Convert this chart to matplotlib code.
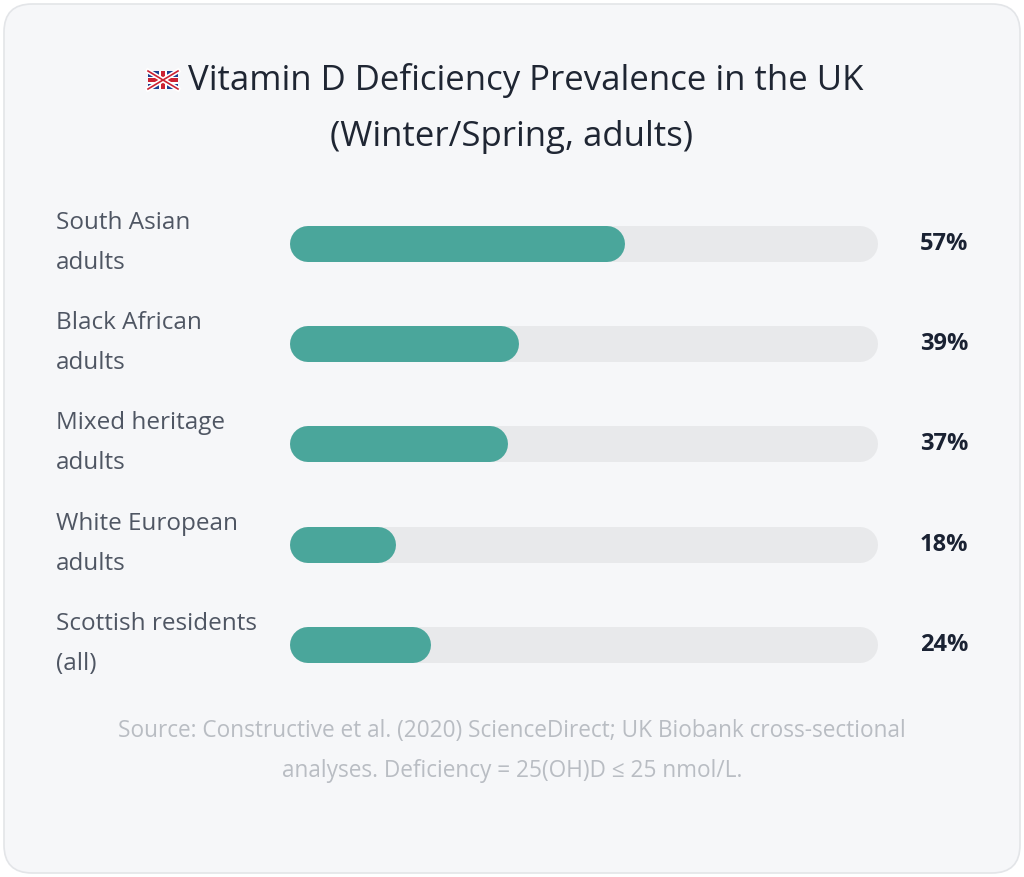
import matplotlib
matplotlib.use("Agg")
import matplotlib.pyplot as plt
from matplotlib.patches import FancyBboxPatch, Rectangle

categories = ["South Asian\nadults", "Black African\nadults", "Mixed heritage\nadults",
              "White European\nadults", "Scottish residents\n(all)"]
values = [57, 39, 37, 18, 24]
value_labels = ["57%", "39%", "37%", "18%", "24%"]
title_line1 = "Vitamin D Deficiency Prevalence in the UK"
title_line2 = "(Winter/Spring, adults)"
source = "Source: Constructive et al. (2020) ScienceDirect; UK Biobank cross-sectional\nanalyses. Deficiency = 25(OH)D ≤ 25 nmol/L."

W, H = 1024, 877
fig = plt.figure(figsize=(W/100, H/100), dpi=100)
fig.patch.set_facecolor("white")
bg = fig.add_axes([0, 0, 1, 1]); bg.set_xlim(0, W); bg.set_ylim(H, 0); bg.axis("off")
bg.add_patch(FancyBboxPatch((4, 4), W-8, H-8, boxstyle="round,pad=0,rounding_size=28",
                            fc="#f6f7f9", ec="#e3e5e8", lw=1.2))
font = ["Open Sans", "DejaVu Sans"]
# flag
fx, fy, fw, fh = 148, 71, 30, 18
bg.add_patch(Rectangle((fx, fy), fw, fh, fc="#1f3f8f", ec="none"))
bg.plot([fx, fx+fw], [fy, fy+fh], color="white", lw=3.5); bg.plot([fx, fx+fw], [fy+fh, fy], color="white", lw=3.5)
bg.plot([fx, fx+fw], [fy, fy+fh], color="#cc2233", lw=1.2); bg.plot([fx, fx+fw], [fy+fh, fy], color="#cc2233", lw=1.2)
bg.add_patch(Rectangle((fx+fw/2-4, fy), 8, fh, fc="white", ec="none"))
bg.add_patch(Rectangle((fx, fy+fh/2-3.5), fw, 7, fc="white", ec="none"))
bg.add_patch(Rectangle((fx+fw/2-2.2, fy), 4.4, fh, fc="#cc2233", ec="none"))
bg.add_patch(Rectangle((fx, fy+fh/2-2), fw, 4, fc="#cc2233", ec="none"))
bg.text(188, 80, title_line1, fontsize=25, family=font,
        color="#1f2633", ha="left", va="center")
bg.text(512, 137, title_line2, fontsize=25, family=font,
        color="#1f2633", ha="center", va="center")
bg.text(512, 751, source, fontsize=16.3, family=font, color="#b9bdc3",
        ha="center", va="center", linespacing=1.85)

x0, x1 = 290, 878
ys = [244, 344, 444, 545, 645]
ax = fig.add_axes([x0/W, 1-(ys[-1]+50)/H, (x1-x0)/W, (ys[-1]-ys[0]+100)/H])
ax.set_xlim(0, 100); ax.set_ylim(len(values)-0.5, -0.5); ax.axis("off")
r = 18 / ((x1-x0)/100)  # cap radius in data units
lw = 36 * 72 / 100
for i, (c, v, lab) in enumerate(zip(categories, values, value_labels)):
    ax.plot([r, 100-r], [i, i], color="#e8e9eb", lw=lw, solid_capstyle="round")
    ax.plot([r, v-r], [i, i], color="#4aa69b", lw=lw, solid_capstyle="round")
    bg.text(56, ys[i]-1, c, fontsize=17.5, family=font, color="#4f5663",
            ha="left", va="center", linespacing=1.85)
    bg.text(968, ys[i], lab, fontsize=17, family=font, weight="bold",
            color="#1a2233", ha="right", va="center")
fig.savefig("out.png", dpi=100, facecolor="white")
